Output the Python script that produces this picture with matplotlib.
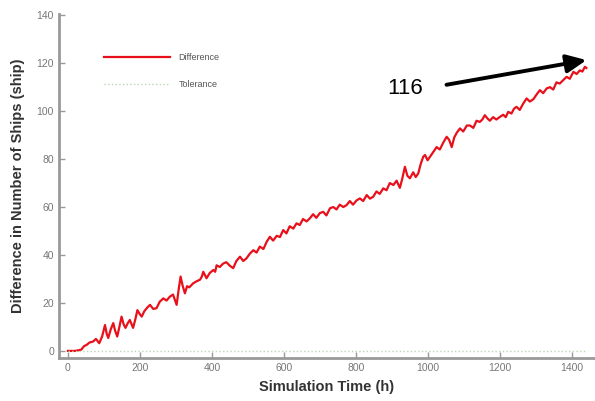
import matplotlib.pyplot as plt

# datos
tiempo_h = [0, 10, 20, 30, 37, 45, 52, 60, 70, 78, 87, 95, 103, 108, 112, 119, 126, 131, 137, 143,
            149, 155, 160, 166, 172, 177, 181, 187, 193, 199, 205, 212, 220, 228, 237, 246, 255, 265,
            274, 283, 292, 302, 308, 313, 319, 325, 331, 337, 348, 357, 367, 372, 376, 381, 385, 394,
            404, 409, 413, 422, 431, 440, 450, 459, 468, 478, 487, 496, 505, 515, 524, 533, 543, 552,
            561, 570, 580, 589, 598, 607, 616, 626, 635, 644, 653, 663, 672, 681, 690, 700, 709, 718,
            728, 737, 746, 755, 765, 774, 783, 792, 802, 811, 820, 830, 839, 848, 857, 866, 876, 885,
            894, 904, 913, 922, 929, 936, 943, 950, 959, 966, 973, 980, 987, 992, 999, 1006, 1015,
            1024, 1033, 1043, 1052, 1059, 1066, 1073, 1080, 1089, 1098, 1108, 1117, 1126, 1135, 1144,
            1151, 1158, 1165, 1172, 1181, 1190, 1200, 1209, 1216, 1223, 1232, 1239, 1246, 1255, 1264,
            1274, 1283, 1293, 1302, 1311, 1320, 1330, 1339, 1348, 1357, 1366, 1376, 1385, 1394, 1404,
            1413, 1422, 1429, 1436, 1440]
diferencia = [0, 0, 0, 0.3, 0.5, 2, 2.5, 3.5, 3.9, 5, 3.2, 6, 10.8, 7, 5.4, 9, 11.6, 8.5, 6, 10,
              14.3, 11, 9.6, 11.5, 12.9, 11, 9.6, 13, 17, 15.5, 14.3, 16.5, 18, 19.2, 17.5, 17.8, 20.5, 21.9,
              21, 22.6, 23.5, 19.2, 26, 31, 27, 24, 27, 26.5, 28.2, 29, 29.7, 31, 33, 31.5, 30.3, 32.5,
              33.75, 33, 35.7, 35, 36.4, 37, 35.5, 34.5, 37.5, 39.3, 37.5, 38.6, 40.5, 42, 41, 43.5, 42.5, 45.5,
              47.6, 46, 48, 47.5, 50.4, 49, 52, 51, 53.2, 52.5, 55, 54, 55.3, 57, 55.5, 57.5, 58, 56.5,
              59.5, 60, 59, 61, 60, 60.8, 62.5, 61, 62.8, 63.6, 62.5, 65, 63.5, 64.3, 66.5, 65.5, 67.8, 67,
              70, 69.2, 71, 68, 72, 76.8, 73, 72, 74.5, 72.5, 74, 78, 81, 81.7, 79.5, 81, 83,
              85, 84, 87, 89.3, 88, 85, 89, 91, 92.8, 91.5, 94, 94, 93, 96, 95.5,
              96.5, 98.3, 97, 96, 97.5, 96.5, 97.6, 98.5, 97.5, 99.7, 99, 101, 101.8, 100.5, 103,
              105.3, 104, 105, 107, 108.75, 107.5, 109.5, 110, 109, 112, 111.5, 113, 114.3, 113.5, 116.4,
              115.5, 117, 116.5, 118.5, 118]
tolerancia_h = [0, 1440]
tolerancia = [0, 0]

plt.rcParams['font.family'] = ['Liberation Sans', 'DejaVu Sans']

fig = plt.figure(figsize=(5.95, 4.01), dpi=100)
ax = fig.add_axes([0.099, 0.107, 0.901, 0.858])

ax.plot(tiempo_h, diferencia, color='#e8101a', lw=1.6, label='Difference')
ax.plot(tolerancia_h, tolerancia, color='#b8d8b0', lw=1.0, ls=':', label='Tolerance')

ax.set_xlim(-25, 1464)
ax.set_ylim(-3, 140.5)
ax.set_xticks(range(0, 1401, 200))
ax.set_yticks(range(0, 141, 20))

for lado in ['top', 'right']:
    ax.spines[lado].set_visible(False)
for lado in ['left', 'bottom']:
    ax.spines[lado].set_color('#999999')
    ax.spines[lado].set_linewidth(2)
ax.tick_params(direction='in', length=4, width=1, color='#999999',
               labelsize=7.5, labelcolor='#777777')

ax.set_xlabel('Simulation Time (h)', fontsize=10.5, fontweight='bold', color='#333333', labelpad=5)
ax.set_ylabel('Difference in Number of Ships (ship)', fontsize=10.5, fontweight='bold',
              color='#333333', labelpad=8)

leg = ax.legend(loc='upper left', bbox_to_anchor=(0.075, 0.9), frameon=False, fontsize=6.5,
                handlelength=7.3, labelspacing=2.0, handletextpad=1.0, borderpad=0)
for txt in leg.get_texts():
    txt.set_color('#555555')

ax.annotate('', xy=(1448, 121.5), xytext=(1044, 110.8),
            arrowprops=dict(arrowstyle='-|>,head_length=1.2,head_width=0.55', color='black', lw=2.8))
ax.text(936, 109.6, '116', fontsize=16, ha='center', va='center', color='black')

fig.savefig('out.png', dpi=100)
